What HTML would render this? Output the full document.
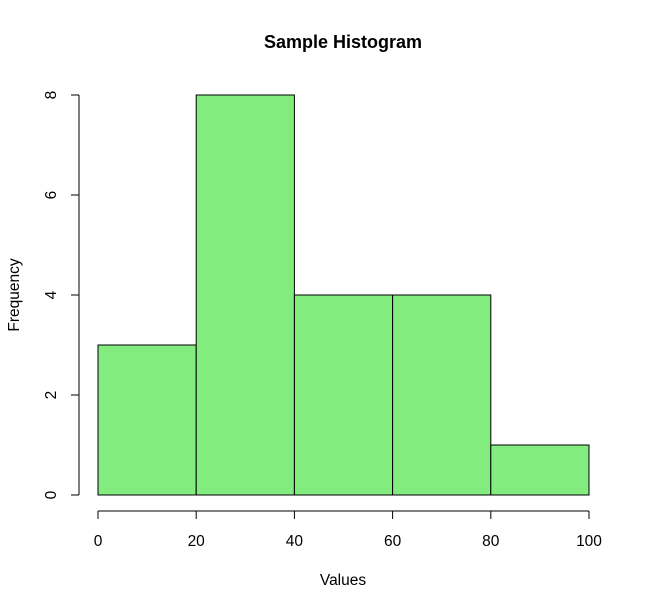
<!DOCTYPE html>
<html><head><meta charset="utf-8"><style>body{margin:0;background:#fff}svg{display:block;font-family:"Liberation Sans",Arial,sans-serif}</style></head>
<body>
<svg id="chart" width="649" height="609" viewBox="0 0 649 609">
<text x="343" y="48" text-anchor="middle" font-size="18" font-weight="bold">Sample Histogram</text>
<text x="343" y="585" text-anchor="middle" font-size="15.5">Values</text>
<text transform="translate(19,295) rotate(-90)" text-anchor="middle" font-size="15.5">Frequency</text>
<g id="bars"></g><g id="xaxis"></g><g id="yaxis"></g>
</svg>
<script>
const binEdges=[0,20,40,60,80,100];
const counts=[3,8,4,4,1];
const xTicks=[0,20,40,60,80,100];
const yTicks=[0,2,4,6,8];
const NS="http://www.w3.org/2000/svg";
const xs=v=>98+v*(589-98)/100;
const ys=v=>495-v*50;
function mk(t,a,p){const e=document.createElementNS(NS,t);for(const k in a)e.setAttribute(k,a[k]);p.appendChild(e);return e;}
const bars=document.getElementById('bars');
counts.forEach((c,i)=>{
 const r=mk('rect',{x:xs(binEdges[i]),y:ys(c),width:xs(binEdges[i+1])-xs(binEdges[i]),height:ys(0)-ys(c),fill:'#83ec7f',stroke:'#000','stroke-width':1},bars);
 
 
});
const xa=document.getElementById('xaxis');


mk('line',{x1:xs(xTicks[0]),x2:xs(xTicks[xTicks.length-1]),y1:511,y2:511,stroke:'#000'},xa);
xTicks.forEach(t=>{
 mk('line',{x1:xs(t),x2:xs(t),y1:511,y2:519,stroke:'#000'},xa);
 const tx=mk('text',{x:xs(t),y:546,'text-anchor':'middle','font-size':15.5},xa);tx.textContent=t;
 
 
});
const ya=document.getElementById('yaxis');


mk('line',{x1:79,x2:79,y1:ys(yTicks[0]),y2:ys(yTicks[yTicks.length-1]),stroke:'#000'},ya);
yTicks.forEach(t=>{
 mk('line',{x1:71,x2:79,y1:ys(t),y2:ys(t),stroke:'#000'},ya);
 const tx=mk('text',{transform:`translate(56,${ys(t)}) rotate(-90)`,'text-anchor':'middle','font-size':15.5},ya);tx.textContent=t;
 
 
});
</script>
</body></html>
